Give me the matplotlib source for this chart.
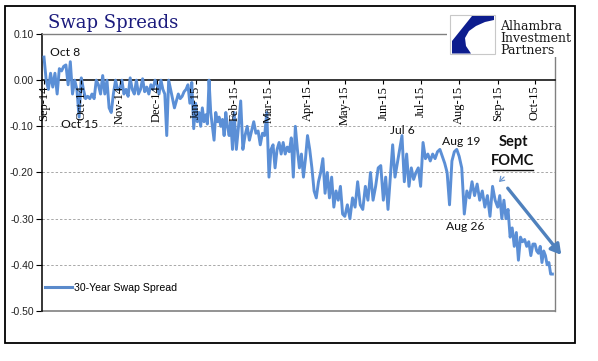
import matplotlib
matplotlib.use("Agg")
import matplotlib.pyplot as plt
import matplotlib.dates as mdates
from matplotlib.patches import Rectangle, Polygon, FancyArrowPatch
from matplotlib.lines import Line2D
import numpy as np
import pandas as pd

# ---------------- data (30-year swap spread) ----------------
month_starts = ["2014-09-01", "2014-10-01", "2014-11-01", "2014-12-01",
                "2015-01-01", "2015-02-01", "2015-03-01", "2015-04-01",
                "2015-05-01", "2015-06-01", "2015-07-01", "2015-08-01",
                "2015-09-01", "2015-10-01"]
last_date = "2015-10-15"

sep14 = [0.05, 0.00, -0.02, 0.015, -0.015, 0.015, -0.03, 0.025, 0.02, 0.03,
         0.033, -0.01, 0.04, -0.03, 0.0, -0.02, -0.08]
oct14 = [0.005, -0.02, -0.04, -0.035, -0.04, -0.03, -0.04, 0.0, -0.01, -0.03,
         0.01, -0.03, 0.0, -0.06, -0.07, -0.03, 0.0, -0.02]
nov14 = [-0.02, 0.0, -0.03, -0.02, -0.035, 0.005, -0.02, -0.03, 0.0, -0.03,
         -0.02, 0.003, -0.025, -0.015, -0.03, -0.01, -0.02, 0.0]
dec14 = [-0.01, -0.03, 0.0, -0.02, -0.03, -0.12, 0.0, -0.02, -0.04, -0.06,
         -0.045, -0.03, -0.04, -0.035, -0.025, -0.02, -0.01, -0.05, -0.005, -0.105]
jan15 = [-0.05, -0.09, -0.07, -0.10, -0.06, -0.09, -0.075, -0.095, 0.0, -0.07,
         -0.10, -0.13, -0.07, -0.09, -0.08, -0.10, -0.085, -0.12, -0.07, -0.10,
         -0.12, -0.09, -0.15]
feb15 = [-0.07, -0.15, -0.10, -0.045, -0.15, -0.12, -0.10, -0.13, -0.11, -0.09,
         -0.115, -0.11, -0.14, -0.115, -0.12, -0.07]
mar15 = [-0.21, -0.15, -0.14, -0.19, -0.15, -0.135, -0.16, -0.135, -0.16, -0.145,
         -0.155, -0.125, -0.21, -0.10, -0.15, -0.19, -0.16, -0.21, -0.17]
apr15 = [-0.12, -0.15, -0.19, -0.24, -0.255, -0.22, -0.20, -0.17, -0.245, -0.20,
         -0.255, -0.21, -0.275, -0.24, -0.26, -0.23, -0.29]
may15 = [-0.295, -0.27, -0.30, -0.255, -0.275, -0.22, -0.27, -0.28, -0.23, -0.26,
         -0.20, -0.26, -0.23, -0.19, -0.185]
jun15 = [-0.26, -0.21, -0.28, -0.21, -0.14, -0.21, -0.18, -0.15, -0.12, -0.22,
         -0.16, -0.23, -0.19, -0.215, -0.20, -0.19]
jul15 = [-0.23, -0.135, -0.17, -0.16, -0.175, -0.16, -0.17, -0.155, -0.15, -0.165,
         -0.18, -0.20, -0.27, -0.175, -0.155, -0.15]
aug15 = [-0.165, -0.19, -0.29, -0.24, -0.255, -0.22, -0.25, -0.225, -0.26, -0.24,
         -0.275, -0.25, -0.295, -0.23, -0.26]
sep15 = [-0.275, -0.25, -0.30, -0.26, -0.30, -0.28, -0.34, -0.32, -0.36, -0.33,
         -0.39, -0.34, -0.35, -0.345, -0.36, -0.35, -0.38, -0.355]
oct15 = [-0.355, -0.37, -0.375, -0.36, -0.395, -0.37, -0.38, -0.40, -0.395,
         -0.42, -0.42]

monthly_values = [sep14, oct14, nov14, dec14, jan15, feb15, mar15, apr15,
                  may15, jun15, jul15, aug15, sep15, oct15]

y_ticks = [0.10, 0.00, -0.10, -0.20, -0.30, -0.40, -0.50]
series_label = "30-Year Swap Spread"

# build dates: each month's observations spread across that month
dates, values = [], []
bounds = month_starts + [last_date]
for i, vals in enumerate(monthly_values):
    if i < len(monthly_values) - 1:
        d = pd.date_range(bounds[i], bounds[i + 1], periods=len(vals) + 1)[:-1]
    else:
        d = pd.date_range(bounds[i], bounds[i + 1], periods=len(vals))
    dates.extend(list(d))
    values.extend(vals)

# ---------------- figure ----------------
W, H = 598, 361
fig = plt.figure(figsize=(W / 100, H / 100), dpi=100)
fig.patch.set_facecolor("white")

def fx(x):
    return x / W

def fy(y):
    return 1 - y / H

ax = fig.add_axes([fx(42), fy(311), (555 - 42) / W, (311 - 34) / H])

line_color = "#5B8FD6"
ax.plot(dates, values, color=line_color, lw=2.1, zorder=3)

x0 = pd.Timestamp("2014-09-01") - pd.Timedelta(days=1.6)
x1 = pd.Timestamp("2015-10-01") + pd.Timedelta(days=16.1)
ax.set_xlim(x0, x1)
ax.set_ylim(-0.5, 0.1)

# grid
for yv in y_ticks[2:-1]:
    ax.axhline(yv, color="#A8A8A8", lw=0.7, ls=(0, (2.5, 2)), zorder=1)
ax.axhline(-0.5, color="#808080", lw=1.2, zorder=2, clip_on=False)

# spines
ax.spines["left"].set_color("black")
ax.spines["left"].set_linewidth(1.1)
ax.spines["top"].set_color("#808080")
ax.spines["right"].set_color("#808080")
ax.spines["top"].set_linewidth(1.0)
ax.spines["right"].set_linewidth(1.0)
ax.spines["bottom"].set_position(("data", 0))
ax.spines["bottom"].set_color("black")
ax.spines["bottom"].set_linewidth(1.1)
ax.spines["bottom"].set_zorder(2.5)

# ticks
ax.set_yticks(y_ticks)
ax.set_yticklabels([f"{v:.2f}" for v in y_ticks], family="Liberation Sans",
                   fontsize=7.5, color="#222222")
ax.tick_params(axis="y", direction="out", length=4, width=0.8, pad=2)

xt = [pd.Timestamp(m) for m in month_starts]
ax.set_xticks(xt)
ax.set_xticklabels([t.strftime("%b-%y") for t in xt], rotation=90,
                   family="Liberation Serif", fontsize=9, color="#000000")
ax.tick_params(axis="x", direction="out", length=3, width=0.8, pad=1)
ax.xaxis.set_zorder(4)

# legend
handle = Line2D([], [], color="#5A8ACB", lw=2.2)
ax.legend([handle], [series_label], loc="center left",
          bbox_to_anchor=(fx(45), fy(288)), bbox_transform=fig.transFigure,
          frameon=False, handlelength=2.6, handletextpad=0.15,
          borderpad=0, borderaxespad=0,
          prop={"family": "Liberation Sans", "size": 7.6})

# annotations
ann_font = dict(family="Lato", fontsize=8.7, color="#111111",
                ha="center", va="center")
fig.text(fx(65), fy(53), "Oct 8", **ann_font)
fig.text(fx(80), fy(125), "Oct 15", **ann_font)
fig.text(fx(402), fy(131), "Jul 6", **ann_font)
fig.text(fx(461), fy(141), "Aug 19", **ann_font)
fig.text(fx(465), fy(226), "Aug 26", **ann_font)
fig.text(fx(513), fy(142), "Sept", family="Lato", fontsize=10.5,
         fontweight="bold", ha="center", va="center", color="#111111")
fig.text(fx(513), fy(161), "FOMC", family="Lato", fontsize=10.5,
         fontweight="bold", ha="center", va="center", color="#111111")
fig.add_artist(Line2D([fx(493), fx(533)], [fy(169.5), fy(169.5)],
                      color="#111111", lw=1.0, transform=fig.transFigure))

# FOMC pointer arrow
fig.add_artist(FancyArrowPatch((fx(506), fy(175)), (fx(497), fy(184)),
                               transform=fig.transFigure,
                               arrowstyle="->,head_length=3,head_width=2",
                               color="#6A96CF", lw=0.9))
# trend arrow
fig.add_artist(FancyArrowPatch((fx(506), fy(186)), (fx(563), fy(257)),
                               transform=fig.transFigure,
                               arrowstyle="-|>,head_length=6,head_width=3.5",
                               color="#4F81BD", lw=2.4, zorder=5))

# title
fig.text(fx(48), fy(28), "Swap Spreads", family="DejaVu Serif", fontsize=13,
         color="#1B1B7D", va="baseline", ha="left")

# logo area (white cover over the top-right frame of plot area)
fig.add_artist(Rectangle((fx(447), fy(57)), fx(573) - fx(447), fy(8) - fy(57),
                         transform=fig.transFigure, facecolor="white",
                         edgecolor="none", zorder=6))
fig.add_artist(Rectangle((fx(450), fy(54)), fx(495) - fx(450), fy(15) - fy(54),
                         transform=fig.transFigure, facecolor="white",
                         edgecolor="#C8C8C8", lw=0.8, zorder=7))
logo_px = [(494, 16), (472, 16), (452, 41), (452, 53.5), (471, 53.5),
           (466, 46), (465, 38), (469, 31), (476, 26), (485, 22), (494, 20)]
fig.add_artist(Polygon([(fx(a), fy(b)) for a, b in logo_px],
                       closed=True, transform=fig.transFigure,
                       facecolor="#0D1D8E", edgecolor="none", zorder=8))
logo_font = dict(family="DejaVu Serif", fontsize=9, color="#1A1A1A",
                 ha="left", va="baseline", zorder=8)
fig.text(fx(500), fy(29.5), "Alhambra", **logo_font)
fig.text(fx(500), fy(41.5), "Investment", **logo_font)
fig.text(fx(500), fy(54), "Partners", **logo_font)

# outer frame
fig.add_artist(Rectangle((fx(5), fy(343)), fx(575) - fx(5), fy(6) - fy(343),
                         transform=fig.transFigure, facecolor="none",
                         edgecolor="black", lw=1.3, zorder=9))

fig.savefig("out.png", dpi=100, facecolor="white")
